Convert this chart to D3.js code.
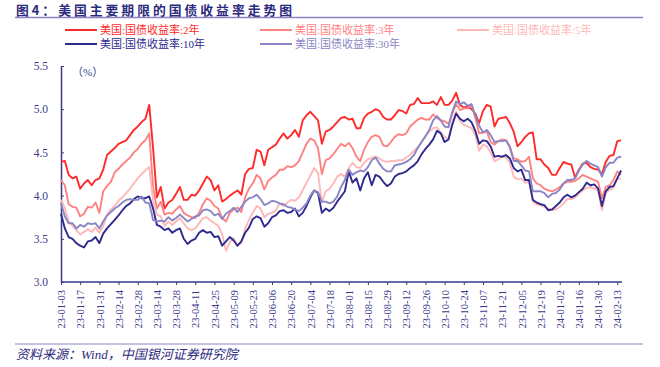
<!DOCTYPE html>
<html><head><meta charset="utf-8">
<script src="https://cdn.jsdelivr.net/npm/d3@7"></script>
<style>
body{margin:0;background:#fff;}
svg{display:block;}
</style>
</head><body>
<svg id="c" width="660" height="367"></svg>
<script>
// ---- data (values every 2 trading days, starting 2023-01-03) ----
const tickLabels = ["23-01-03","23-01-17","23-01-31","23-02-14","23-02-28","23-03-14","23-03-28","23-04-11","23-04-25","23-05-09","23-05-23","23-06-06","23-06-20","23-07-04","23-07-18","23-08-01","23-08-15","23-08-29","23-09-12","23-09-26","23-10-10","23-10-24","23-11-07","23-11-21","23-12-05","23-12-19","24-01-02","24-01-16","24-01-30","24-02-13"];
const seriesNames = ["美国:国债收益率:2年","美国:国债收益率:3年","美国:国债收益率:5年","美国:国债收益率:10年","美国:国债收益率:30年"];
const yTicks = [3.0,3.5,4.0,4.5,5.0,5.5];

const y2 = [4.39,4.40,4.24,4.20,4.22,4.08,4.14,4.18,4.12,4.18,4.20,4.30,4.47,4.51,4.55,4.60,4.62,4.64,4.70,4.76,4.80,4.85,4.89,5.05,4.55,3.98,4.10,3.85,3.92,3.95,4.02,4.10,3.95,3.95,4.01,4.00,4.06,4.14,4.22,4.18,4.06,4.12,3.93,3.96,4.00,4.03,4.06,4.01,4.25,4.31,4.32,4.53,4.51,4.35,4.53,4.56,4.59,4.66,4.72,4.66,4.70,4.76,4.68,4.87,4.93,4.97,4.92,4.87,4.60,4.74,4.76,4.80,4.85,4.90,4.91,4.88,4.89,4.78,4.78,4.90,4.95,4.97,5.00,4.98,4.91,4.88,4.88,4.93,4.99,4.98,4.95,5.05,5.06,5.13,5.07,5.07,5.07,5.09,5.05,5.14,5.05,5.05,5.10,5.19,5.05,5.02,5.03,5.00,4.95,4.84,4.98,5.05,5.03,4.80,4.89,4.90,4.91,4.84,4.74,4.57,4.62,4.68,4.72,4.73,4.42,4.42,4.36,4.32,4.24,4.24,4.32,4.39,4.37,4.36,4.21,4.30,4.37,4.38,4.33,4.31,4.30,4.25,4.39,4.46,4.47,4.63,4.64];
const y3 = [4.18,4.12,3.90,3.87,3.86,3.76,3.79,3.87,3.86,3.92,3.80,4.05,4.11,4.16,4.27,4.31,4.36,4.40,4.44,4.50,4.54,4.60,4.64,4.72,4.10,3.85,3.93,3.78,3.80,3.79,3.84,3.88,3.80,3.77,3.75,3.74,3.80,3.90,3.97,3.94,3.88,3.85,3.74,3.70,3.80,3.84,3.86,3.81,3.98,4.08,4.14,4.24,4.20,4.07,4.17,4.21,4.24,4.30,4.30,4.34,4.33,4.35,4.40,4.50,4.60,4.66,4.64,4.55,4.25,4.41,4.43,4.48,4.54,4.60,4.57,4.61,4.55,4.45,4.40,4.53,4.62,4.68,4.70,4.68,4.58,4.57,4.62,4.68,4.71,4.70,4.72,4.80,4.84,4.88,4.90,4.88,4.88,4.94,4.90,4.87,4.86,4.83,4.95,5.06,4.99,5.01,5.01,5.05,4.90,4.72,4.73,4.74,4.62,4.59,4.63,4.65,4.64,4.57,4.43,4.42,4.39,4.40,4.45,4.20,4.14,4.12,4.08,4.06,4.05,4.07,4.10,4.14,4.16,4.16,4.17,4.20,4.24,4.22,4.20,4.18,4.16,3.97,4.10,4.12,4.18,4.28,4.24];
const y5 = [3.95,3.86,3.70,3.65,3.60,3.55,3.58,3.61,3.58,3.63,3.57,3.65,3.78,3.84,3.88,3.94,3.98,4.03,4.08,4.14,4.20,4.25,4.29,4.33,3.95,3.78,3.76,3.65,3.70,3.66,3.70,3.74,3.68,3.62,3.60,3.62,3.68,3.74,3.75,3.71,3.68,3.65,3.55,3.36,3.46,3.51,3.42,3.45,3.62,3.72,3.80,3.88,3.85,3.75,3.79,3.80,3.83,3.91,3.88,3.92,3.95,3.94,3.98,4.06,4.15,4.23,4.32,4.26,3.92,4.05,4.08,4.14,4.22,4.25,4.22,4.32,4.38,4.33,4.32,4.38,4.42,4.44,4.45,4.43,4.40,4.39,4.40,4.40,4.41,4.41,4.44,4.47,4.52,4.56,4.62,4.68,4.74,4.78,4.79,4.73,4.68,4.65,4.85,4.97,4.86,4.82,4.80,4.78,4.70,4.52,4.59,4.57,4.50,4.40,4.42,4.45,4.44,4.38,4.22,4.19,4.20,4.15,4.16,3.93,3.90,3.89,3.87,3.85,3.83,3.84,3.87,3.91,3.96,3.96,3.98,4.02,4.06,4.09,4.10,4.08,4.06,3.83,4.03,4.07,4.09,4.20,4.19];
const y10 = [3.79,3.62,3.52,3.50,3.45,3.42,3.40,3.47,3.48,3.52,3.45,3.56,3.62,3.67,3.72,3.77,3.83,3.88,3.91,3.96,3.99,3.97,3.97,3.99,3.85,3.66,3.64,3.60,3.62,3.57,3.60,3.62,3.50,3.44,3.48,3.50,3.57,3.60,3.57,3.58,3.52,3.53,3.42,3.47,3.52,3.48,3.42,3.47,3.57,3.63,3.73,3.76,3.74,3.64,3.68,3.75,3.77,3.82,3.83,3.80,3.81,3.85,3.76,3.80,3.88,3.98,4.06,4.03,3.80,3.85,3.82,3.86,3.93,3.99,4.05,4.28,4.15,4.20,4.06,4.20,4.27,4.12,4.24,4.22,4.16,4.11,4.14,4.22,4.25,4.26,4.28,4.32,4.35,4.40,4.48,4.54,4.59,4.65,4.75,4.72,4.62,4.65,4.82,4.95,4.89,4.86,4.89,4.85,4.75,4.60,4.64,4.63,4.57,4.45,4.46,4.45,4.47,4.43,4.32,4.28,4.30,4.18,4.18,3.95,3.92,3.90,3.89,3.83,3.84,3.88,3.92,3.98,4.01,3.98,4.00,4.04,4.08,4.15,4.12,4.13,4.08,3.88,4.05,4.10,4.11,4.20,4.29];
const y30 = [3.91,3.76,3.68,3.68,3.62,3.66,3.64,3.68,3.67,3.68,3.62,3.70,3.77,3.81,3.85,3.88,3.92,3.95,3.96,3.95,3.95,3.99,3.92,3.91,3.72,3.70,3.71,3.70,3.75,3.71,3.74,3.78,3.74,3.70,3.73,3.76,3.77,3.83,3.84,3.82,3.77,3.79,3.73,3.79,3.82,3.86,3.81,3.87,3.93,3.97,3.98,4.01,3.96,3.89,3.91,3.94,3.93,3.91,3.90,3.87,3.86,3.84,3.82,3.86,3.91,4.00,4.06,4.04,3.93,3.93,3.91,3.93,3.99,4.10,4.18,4.30,4.24,4.27,4.29,4.28,4.33,4.41,4.44,4.37,4.31,4.28,4.28,4.35,4.36,4.37,4.39,4.42,4.47,4.55,4.62,4.69,4.76,4.87,4.92,4.87,4.80,4.79,4.97,5.09,5.06,5.08,5.04,5.06,4.92,4.81,4.73,4.76,4.70,4.62,4.63,4.63,4.64,4.56,4.40,4.40,4.35,4.29,4.28,4.05,4.05,4.05,4.03,3.98,4.02,4.03,4.07,4.14,4.18,4.18,4.20,4.29,4.36,4.40,4.37,4.35,4.33,4.22,4.33,4.38,4.38,4.44,4.45];

const seriesValues = [y2, y3, y5, y10, y30];
const colors = ["#ff2a2a", "#ff8282", "#ffb8b8", "#2e2a8e", "#8a86c6"];
const navy = "#3a3a8c";

// ---- drawing ----
const svg = d3.select("#c");

const x = d3.scaleLinear().domain([0, 292]).range([61, 621.1]);
const y = d3.scaleLinear().domain([3.0, 5.5]).range([282, 66]);

// title
svg.append("text")
  .attr("x", 16).attr("y", 15)
  .attr("font-family", "'Noto Sans CJK SC', sans-serif")
  .attr("font-weight", "bold")
  .attr("font-size", 12.8)
  .attr("letter-spacing", 3)
  .attr("fill", "#2c2a7e")
  .text("图4：美国主要期限的国债收益率走势图");
svg.append("line").attr("x1", 15).attr("x2", 643).attr("y1", 17.5).attr("y2", 17.5)
  .attr("stroke", "#8b83c6").attr("stroke-width", 1.3);

// legend
const legendPos = [[65,30],[260,30],[457,30],[65,44],[260,44]];
seriesNames.forEach((name, k) => {
  const [lx, ly] = legendPos[k];
  svg.append("line").attr("x1", lx).attr("x2", lx + 32).attr("y1", ly).attr("y2", ly)
    .attr("stroke", colors[k]).attr("stroke-width", 2);
  svg.append("text").attr("x", lx + 35).attr("y", ly + 4)
    .attr("font-family", "'Times New Roman','Liberation Serif','Noto Sans CJK SC',serif")
    .attr("font-size", 11)
    .attr("fill", colors[k])
    .text(name);
});

// axes
const yAxis = d3.axisLeft(y).tickValues(yTicks).tickFormat(d3.format(".1f"))
  .tickSizeInner(-3).tickSizeOuter(0).tickPadding(13);
const gy = svg.append("g").attr("transform", "translate(61,0)").call(yAxis);
gy.select(".domain").attr("stroke", navy).attr("stroke-width", 1.5);
gy.selectAll(".tick line").attr("stroke", navy);
gy.selectAll("text").attr("fill", navy)
  .attr("font-family", "'Times New Roman','Liberation Serif',serif").attr("font-size", 11.5);

const xAxis = d3.axisBottom(x).tickValues(d3.range(0, 291, 10))
  .tickFormat(i => tickLabels[i / 10]).tickSizeInner(3).tickSizeOuter(0);
const gx = svg.append("g").attr("transform", "translate(0,282)").call(xAxis);
gx.select(".domain").attr("stroke", navy).attr("stroke-width", 1.5)
  .attr("d", "M61,0H622");
gx.selectAll(".tick line").attr("stroke", navy);
gx.selectAll("text")
  .attr("fill", navy)
  .attr("font-family", "'Times New Roman','Liberation Serif',serif").attr("font-size", 10.5)
  .attr("transform", "rotate(-90)")
  .attr("text-anchor", "end")
  .attr("x", -8).attr("y", 0).attr("dy", "0.35em");

// unit label
svg.append("text").attr("x", 72).attr("y", 76)
  .attr("font-family", "'Times New Roman','Liberation Serif','Noto Sans CJK SC',serif")
  .attr("font-size", 11).attr("fill", navy).text("（%）");

// lines
const line = d3.line().x((d, k) => x(k * 2)).y(d => y(d));
seriesValues.forEach((vals, k) => {
  svg.append("path").datum(vals)
    .attr("d", line)
    .attr("fill", "none")
    .attr("stroke", colors[k])
    .attr("stroke-width", 1.9)
    .attr("stroke-linejoin", "round");
});

// bottom rule & source
svg.append("line").attr("x1", 15).attr("x2", 643).attr("y1", 344).attr("y2", 344)
  .attr("stroke", "#c4c2e0").attr("stroke-width", 2);
svg.append("text").attr("x", 16).attr("y", 359)
  .attr("font-family", "'Times New Roman','Liberation Serif','Noto Sans CJK SC',serif")
  .attr("font-style", "italic")
  .attr("font-size", 13)
  .attr("fill", "#2c2a7e")
  .text("资料来源：Wind，中国银河证券研究院");
</script>
</body></html>
